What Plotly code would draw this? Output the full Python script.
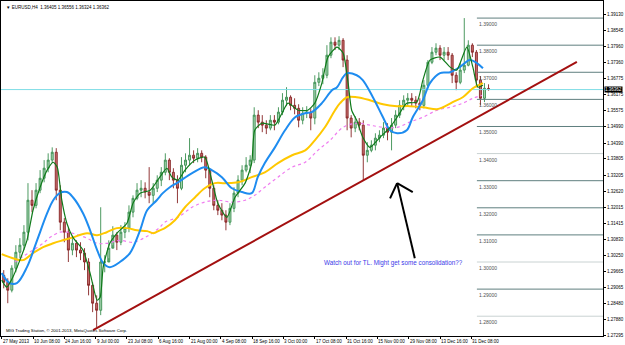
import plotly.graph_objects as go

# ---------------- data ----------------
# aggregated H4 candles (8 bars per candle), x = bar index of candle centre
c_open = [1.2951,1.2925,1.2896,1.2977,1.3036,1.3062,1.3110,1.3228,1.3209,1.3265,1.3309,1.3346,1.3376,1.3405,1.3265,1.3147,1.3110,1.3044,1.3069,1.3044,
          1.3033,1.3000,1.2914,1.2848,1.2822,1.3000,1.3000,1.3051,1.3099,1.3073,1.3110,1.3125,1.3184,1.3235,1.3265,1.3272,1.3258,1.3246,1.3272,1.3302,
          1.3331,1.3376,1.3331,1.3302,1.3272,1.3357,1.3376,1.3394,1.3383,1.3401,1.3387,1.3339,1.3272,1.3209,1.3191,1.3173,1.3147,1.3198,1.3254,1.3302,
          1.3339,1.3357,1.3376,1.3542,1.3516,1.3505,1.3494,1.3523,1.3516,1.3553,1.3597,1.3608,1.3578,1.3567,1.3523,1.3549,1.3553,1.3531,1.3663,1.3678,
          1.3689,1.3763,1.3811,1.3800,1.3818,1.3745,1.3531,1.3494,1.3516,1.3505,1.3394,1.3412,1.3431,1.3457,1.3468,1.3494,1.3479,1.3505,1.3542,1.3578,
          1.3597,1.3604,1.3597,1.3586,1.3578,1.3652,1.3737,1.3774,1.3789,1.3763,1.3774,1.3763,1.3689,1.3663,1.3708,1.3726,1.3800,1.3774,1.3671,1.3604,
          1.36405]
c_high = [1.2970,1.2940,1.2988,1.3062,1.3088,1.3136,1.3291,1.3265,1.3291,1.3339,1.3376,1.3401,1.3423,1.3420,1.3283,1.3162,1.3125,1.3095,1.3080,1.3073,
          1.3051,1.3014,1.2925,1.2877,1.3202,1.3025,1.3080,1.3132,1.3110,1.3136,1.3147,1.3209,1.3246,1.3291,1.3302,1.3294,1.3350,1.3291,1.3320,1.3350,
          1.3401,1.3383,1.3346,1.3320,1.3387,1.3401,1.3457,1.3412,1.3420,1.3412,1.3394,1.3346,1.3283,1.3228,1.3217,1.3191,1.3217,1.3276,1.3320,1.3357,
          1.3387,1.3394,1.3571,1.3560,1.3542,1.3523,1.3542,1.3542,1.3571,1.3623,1.3645,1.3615,1.3604,1.3582,1.3571,1.3575,1.3567,1.3689,1.3700,1.3715,
          1.3800,1.3829,1.3829,1.3833,1.3826,1.3763,1.3542,1.3538,1.3531,1.3523,1.3442,1.3449,1.3475,1.3486,1.3516,1.3512,1.3531,1.3560,1.3597,1.3615,
          1.3623,1.3623,1.3612,1.3604,1.3671,1.3745,1.3793,1.3807,1.3800,1.3793,1.3793,1.3771,1.3700,1.3734,1.3900,1.3818,1.3807,1.3782,1.3686,1.3660,
          1.36556]
c_low = [1.2903,1.2848,1.2888,1.2962,1.3014,1.3044,1.3080,1.3184,1.3198,1.3254,1.3294,1.3331,1.3365,1.3228,1.3117,1.3073,1.3000,1.3025,1.3018,1.3007,
         1.2970,1.2877,1.2815,1.2759,1.2804,1.2962,1.3014,1.3062,1.3044,1.3062,1.3088,1.3110,1.3165,1.3228,1.3239,1.3235,1.3217,1.3217,1.3258,1.3280,
         1.3320,1.3302,1.3272,1.3217,1.3265,1.3331,1.3357,1.3365,1.3368,1.3368,1.3309,1.3239,1.3191,1.3173,1.3154,1.3117,1.3136,1.3184,1.3239,1.3283,
         1.3331,1.3328,1.3365,1.3494,1.3479,1.3472,1.3486,1.3486,1.3508,1.3542,1.3575,1.3560,1.3545,1.3497,1.3508,1.3531,1.3486,1.3508,1.3649,1.3656,
         1.3678,1.3752,1.3782,1.3782,1.3719,1.3486,1.3460,1.3479,1.3486,1.3302,1.3368,1.3405,1.3412,1.3442,1.3457,1.3449,1.3412,1.3494,1.3531,1.3560,
         1.3578,1.3575,1.3567,1.3560,1.3567,1.3641,1.3730,1.3763,1.3745,1.3745,1.3745,1.3660,1.3634,1.3656,1.3697,1.3722,1.3756,1.3645,1.3578,1.3590,
         1.36324]
c_close = [1.2925,1.2896,1.2977,1.3036,1.3062,1.3110,1.3228,1.3209,1.3265,1.3309,1.3346,1.3376,1.3405,1.3265,1.3147,1.3110,1.3044,1.3069,1.3044,1.3033,
           1.3000,1.2914,1.2848,1.2822,1.3000,1.3000,1.3051,1.3099,1.3073,1.3110,1.3125,1.3184,1.3235,1.3265,1.3272,1.3258,1.3246,1.3272,1.3302,1.3331,
           1.3376,1.3331,1.3302,1.3272,1.3357,1.3376,1.3394,1.3383,1.3401,1.3387,1.3339,1.3272,1.3209,1.3191,1.3173,1.3147,1.3198,1.3254,1.3302,1.3339,
           1.3357,1.3376,1.3542,1.3516,1.3505,1.3494,1.3523,1.3516,1.3553,1.3597,1.3608,1.3578,1.3567,1.3523,1.3549,1.3553,1.3531,1.3663,1.3678,1.3689,
           1.3763,1.3811,1.3800,1.3818,1.3745,1.3531,1.3494,1.3516,1.3505,1.3394,1.3412,1.3431,1.3457,1.3468,1.3494,1.3479,1.3505,1.3542,1.3578,1.3597,
           1.3604,1.3597,1.3586,1.3578,1.3652,1.3737,1.3774,1.3789,1.3763,1.3774,1.3763,1.3689,1.3663,1.3708,1.3726,1.3800,1.3774,1.3671,1.3604,1.3641,
           1.36362]
BARS_PER_CANDLE = 8

# moving averages (x = bar index)
green_x = [0,10,22,36,50,62,76,90,102,110,119,129,141,161,175,189,195,201,214,228,248,260,274,294,313,327,337,349,363,383,402,416,428,446,462,482,
           495,501,515,541,555,567,587,606,620,634,646,664,676,686,693,703,715,729,749,769,783,802,822,834,848,868,888,901,921,933,943,953]
green_y = [1.2933,1.2907,1.2944,1.3007,1.3080,1.3191,1.3276,1.3339,1.3368,1.3350,1.3228,1.3143,1.3091,1.3044,1.2959,1.2859,1.2870,1.2981,1.3069,1.3106,
           1.3143,1.3217,1.3254,1.3265,1.3313,1.3346,1.3313,1.3302,1.3339,1.3376,1.3387,1.3302,1.3217,1.3165,1.3239,1.3291,1.3365,1.3486,1.3512,1.3505,
           1.3549,1.3586,1.3560,1.3560,1.3586,1.3660,1.3756,1.3793,1.3771,1.3660,1.3560,1.3523,1.3460,1.3423,1.3460,1.3497,1.3534,1.3586,1.3590,1.3671,
           1.3745,1.3756,1.3719,1.3708,1.3793,1.3719,1.3645,1.3652]
blue_x = [0,16,30,50,70,90,102,115,129,141,161,175,189,201,214,234,254,274,288,307,319,333,349,377,402,416,436,456,476,495,507,521,541,561,581,
          601,614,634,654,664,676,684,703,715,735,755,769,783,802,814,834,848,868,888,907,927,941,953]
blue_y = [1.2959,1.2922,1.2922,1.2981,1.3080,1.3180,1.3228,1.3254,1.3258,1.3239,1.3180,1.3117,1.3044,1.2996,1.2981,1.3000,1.3033,1.3117,1.3191,1.3228,
          1.3254,1.3276,1.3294,1.3328,1.3350,1.3339,1.3313,1.3272,1.3258,1.3254,1.3313,1.3365,1.3423,1.3486,1.3534,1.3549,1.3553,1.3586,1.3634,1.3645,
          1.3682,1.3697,1.3689,1.3671,1.3608,1.3534,1.3486,1.3475,1.3486,1.3534,1.3597,1.3660,1.3697,1.3700,1.3719,1.3745,1.3734,1.3715]
yellow_x = [0,22,42,62,82,102,121,141,169,189,208,228,248,268,288,300,313,323,343,363,383,402,422,442,468,495,521,547,575,601,620,640,660,670,684,
            703,729,755,783,808,834,862,874,893,913,933,953]
yellow_y = [1.3029,1.3014,1.3007,1.3033,1.3055,1.3069,1.3080,1.3091,1.3106,1.3099,1.3110,1.3125,1.3125,1.3117,1.3114,1.3106,1.3117,1.3125,1.3154,1.3202,
            1.3239,1.3272,1.3291,1.3291,1.3294,1.3313,1.3331,1.3365,1.3394,1.3412,1.3449,1.3497,1.3560,1.3586,1.3608,1.3608,1.3597,1.3582,1.3575,1.3575,
            1.3571,1.3564,1.3571,1.3590,1.3608,1.3641,1.3660]
pink_x = [26,46,62,82,96,115,129,141,169,189,208,234,260,288,313,323,349,377,402,428,456,482,501,521,547,575,601,626,650,676,703,729,755,783,808,
          834,862,888,913,933,951]
pink_y = [1.3000,1.3025,1.3044,1.3069,1.3091,1.3110,1.3110,1.3106,1.3088,1.3069,1.3069,1.3080,1.3073,1.3095,1.3128,1.3147,1.3165,1.3202,1.3221,1.3228,
          1.3221,1.3228,1.3246,1.3276,1.3313,1.3350,1.3368,1.3412,1.3449,1.3497,1.3512,1.3505,1.3497,1.3497,1.3516,1.3534,1.3560,1.3571,1.3586,1.3604,
          1.3615]

# trend line (hand drawn) and arrow
tl_x = [181, 1139]
tl_y = [1.2749, 1.3738]
arrow_tail = (818, 1.3014)
arrow_tip = (783, 1.3291)
arrow_arms = [(769, 1.3235), (814, 1.3258)]

# horizontal round-number levels drawn on the chart
levels = [1.39, 1.38, 1.37, 1.36, 1.35, 1.34, 1.33, 1.32, 1.31, 1.30, 1.29, 1.28]
light_levels = [1.34, 1.30, 1.28]
level_start = 941
bid = 1.36362

# axis ticks
x_tick_bars = [0, 62, 124, 186, 248, 310, 372, 434, 496, 558, 620, 682, 744, 806, 868, 930]
x_tick_text = ["27 May 2013", "10 Jun 08:00", "24 Jun 16:00", "9 Jul 00:00", "23 Jul 08:00", "6 Aug 16:00",
               "21 Aug 00:00", "4 Sep 08:00", "18 Sep 16:00", "3 Oct 00:00", "17 Oct 08:00", "31 Oct 16:00",
               "15 Nov 00:00", "29 Nov 08:00", "13 Dec 16:00", "31 Dec 08:00"]
y_ticks = [1.39130, 1.38545, 1.37960, 1.37360, 1.36775, 1.36175, 1.35575, 1.34990, 1.34390, 1.33805, 1.33205,
           1.32620, 1.32015, 1.31415, 1.30830, 1.30250, 1.29665, 1.29065, 1.28480, 1.27880, 1.27295]

X_RANGE = [-1.4, 1190.7]
Y_RANGE = [1.2727, 1.3963]
FONT = "Liberation Sans"
SMALL = 4.5

# ---------------- figure ----------------
fig = go.Figure()

candle_x = [i * BARS_PER_CANDLE + BARS_PER_CANDLE / 2 for i in range(len(c_close))]

# level lines
for lv in levels:
    col = "#c9d2d2" if lv in light_levels else "#5f7f7f"
    fig.add_trace(go.Scatter(x=[level_start, X_RANGE[1]], y=[lv, lv], mode="lines",
                             line=dict(color=col, width=1), hoverinfo="skip", showlegend=False))
    fig.add_annotation(x=level_start, y=lv, text=f"{lv:.5f}", showarrow=False, xanchor="left",
                       yanchor="top", yshift=-1, font=dict(family=FONT, size=5, color="#505050"))

# bid line
fig.add_trace(go.Scatter(x=X_RANGE, y=[bid, bid], mode="lines", line=dict(color="#7fdde6", width=1),
                         hoverinfo="skip", showlegend=False))

fig.add_trace(go.Candlestick(x=candle_x, open=c_open, high=c_high, low=c_low, close=c_close,
                             increasing=dict(line=dict(color="#3a8f50", width=0.9), fillcolor="#a7d3b0"),
                             decreasing=dict(line=dict(color="#862222", width=0.9), fillcolor="#c87070"),
                             whiskerwidth=0, showlegend=False))

fig.add_trace(go.Scatter(x=pink_x, y=pink_y, mode="lines", line=dict(color="#f07cf0", width=1.2, dash="dot", shape="spline"),
                         showlegend=False))
fig.add_trace(go.Scatter(x=yellow_x, y=yellow_y, mode="lines", line=dict(color="#ffc800", width=2, shape="spline"),
                         showlegend=False))
fig.add_trace(go.Scatter(x=blue_x, y=blue_y, mode="lines", line=dict(color="#1e8cf0", width=2, shape="spline"),
                         showlegend=False))
fig.add_trace(go.Scatter(x=green_x, y=green_y, mode="lines", line=dict(color="#0f7a1a", width=1.2, shape="spline", smoothing=0.6),
                         showlegend=False))

# trend line
fig.add_trace(go.Scatter(x=tl_x, y=tl_y, mode="lines", line=dict(color="#a31010", width=2), showlegend=False))

# arrow
fig.add_shape(type="line", x0=arrow_tail[0], y0=arrow_tail[1], x1=arrow_tip[0], y1=arrow_tip[1],
              line=dict(color="black", width=2))
for ax_, ay_ in arrow_arms:
    fig.add_shape(type="line", x0=arrow_tip[0], y0=arrow_tip[1], x1=ax_, y1=ay_, line=dict(color="black", width=2))

# texts
fig.add_annotation(x=634, y=1.2996, text="Watch out for TL. Might get some consolidation??", showarrow=False,
                   xanchor="left", yanchor="middle", font=dict(family=FONT, size=6.3, color="#3a3ae8"))
fig.add_annotation(xref="paper", yref="paper", x=0, y=1, xshift=3, yshift=-2, xanchor="left", yanchor="top",
                   text="\u25bc EURUSD,H4  1.36405 1.36556 1.36324 1.36362", showarrow=False,
                   font=dict(family=FONT, size=SMALL, color="black"))
fig.add_annotation(xref="paper", yref="paper", x=0, y=0, xshift=3, yshift=1, xanchor="left", yanchor="bottom",
                   text="MIG Trading Station, \u00a9 2001-2013, MetaQuotes Software Corp.", showarrow=False,
                   font=dict(family=FONT, size=4.3, color="black"))
for xb, t in zip(x_tick_bars, x_tick_text):
    fig.add_annotation(x=xb, yref="paper", y=0, text=t, showarrow=False, xanchor="left", yanchor="top",
                       xshift=-1, yshift=-1, font=dict(family=FONT, size=SMALL, color="black"))
# current price box
fig.add_annotation(xref="paper", x=1, y=bid, text=f"{bid:.5f}", showarrow=False, xanchor="left", yanchor="middle",
                   xshift=1, bgcolor="black", borderpad=0, font=dict(family=FONT, size=SMALL, color="white"))

fig.update_layout(
    width=625, height=345, margin=dict(l=1, r=22, t=1, b=9),
    paper_bgcolor="white", plot_bgcolor="white",
    xaxis=dict(range=X_RANGE, showgrid=False, zeroline=False, showline=True, linecolor="black", linewidth=1,
               mirror=True, ticks="outside", ticklen=2, tickcolor="black", tickvals=x_tick_bars,
               showticklabels=False, rangeslider=dict(visible=False)),
    yaxis=dict(range=Y_RANGE, side="right", showgrid=False, zeroline=False, showline=True, linecolor="black",
               linewidth=1, mirror=True, ticks="outside", ticklen=2, tickcolor="black", tickvals=y_ticks,
               tickformat=".5f", tickfont=dict(family=FONT, size=SMALL, color="black")),
    showlegend=False,
)

fig.write_html("out.html")
